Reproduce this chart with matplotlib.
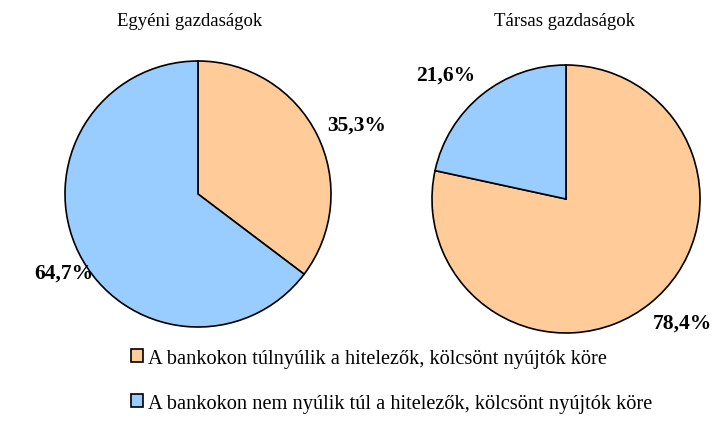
import matplotlib.pyplot as plt
from matplotlib.patches import Patch

# data
titles = ["Egyéni gazdaságok", "Társas gazdaságok"]
categories = ["A bankokon túlnyúlik a hitelezők, kölcsönt nyújtók köre",
              "A bankokon nem nyúlik túl a hitelezők, kölcsönt nyújtók köre"]
egyeni = [35.3, 64.7]
tarsas = [78.4, 21.6]
colors = ["#FFCC99", "#99CCFF"]

plt.rcParams['font.family'] = ['Liberation Serif', 'DejaVu Serif']

W, H = 713, 439
fig = plt.figure(figsize=(W / 100, H / 100), dpi=100)


def pie_axes(cx, cy, r):
    # axes box in pixel units -> figure fraction
    return fig.add_axes([(cx - r) / W, 1 - (cy + r) / H, 2 * r / W, 2 * r / H])


def pct(p):
    return ("%.1f%%" % p).replace(".", ",")


# centre x, centre y, radius (px), label spots in radius units, title x
specs = [(egyeni, 198, 195, 133, [(1.19, 0.52), (-1.01, -0.59)], titles[0], 190),
         (tarsas, 566, 200, 134, [(0.87, -0.92), (-0.90, 0.93)], titles[1], 565)]

for vals, cx, cy, r, spots, title, tx in specs:
    ax = pie_axes(cx, cy, r)
    wedges, texts, autotexts = ax.pie(vals, colors=colors, startangle=90, counterclock=False,
                                      autopct=pct,
                                      wedgeprops=dict(edgecolor="black", linewidth=1.2))
    for t, xy in zip(autotexts, spots):
        t.set_position(xy)
        t.set_fontsize(15.5)
        t.set_fontweight("bold")
    ax.set_xlim(-1, 1)
    ax.set_ylim(-1, 1)
    fig.text(tx / W, 1 - 22 / H, title, ha="center", va="center", fontsize=13.5)

handles = [Patch(facecolor=c, edgecolor="black", linewidth=1.2) for c in colors]
fig.legend(handles, categories, loc="upper left", bbox_to_anchor=(131 / W, 1 - 350 / H),
           frameon=False, fontsize=14.7, handlelength=0.6, handleheight=0.6,
           handletextpad=0.25, labelspacing=1.25, borderpad=0, borderaxespad=0)

fig.savefig("out.png", dpi=100)
